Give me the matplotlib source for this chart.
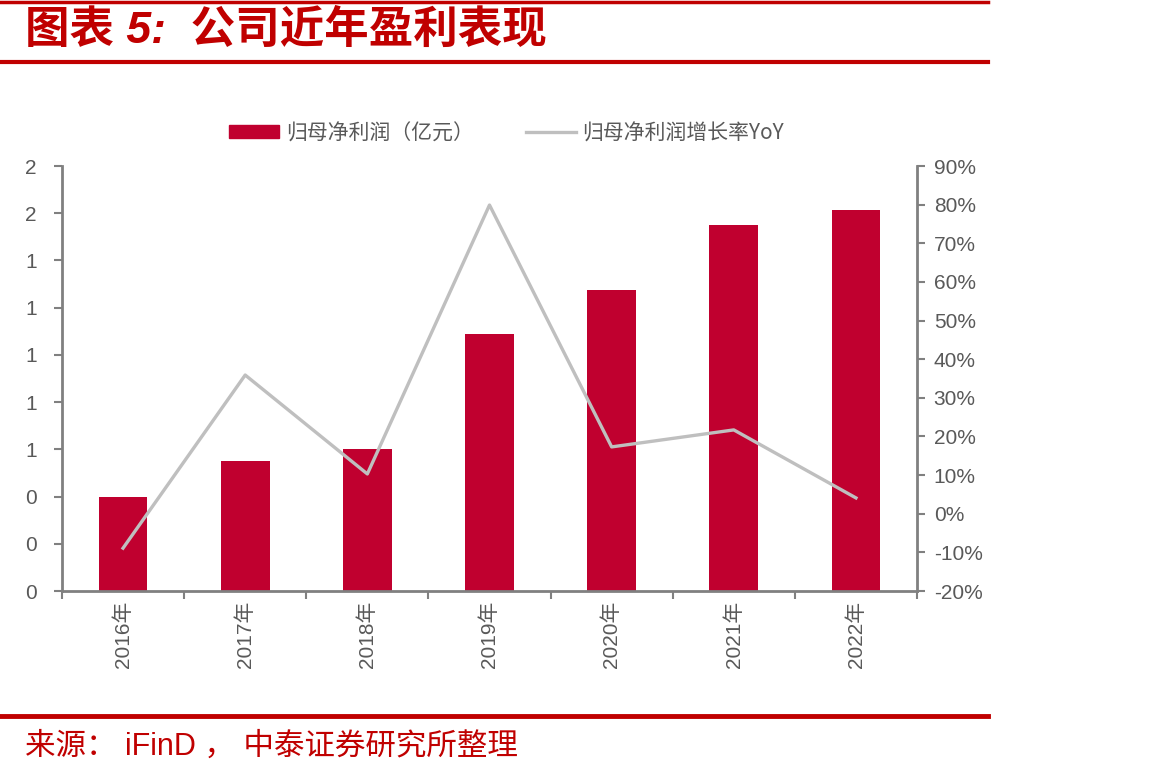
import numpy as np
import matplotlib.pyplot as plt
from matplotlib.ticker import FuncFormatter, FixedLocator
from matplotlib.lines import Line2D
from matplotlib.patches import Patch

plt.rcParams['font.family'] = ['Liberation Sans', 'Noto Sans CJK SC', 'DejaVu Sans']

years = ['2016年', '2017年', '2018年', '2019年', '2020年', '2021年', '2022年']
profit = [0.40, 0.55, 0.60, 1.09, 1.275, 1.55, 1.615]        # 归母净利润 (亿元)
yoy = [-8.9, 35.9, 10.3, 79.9, 17.3, 21.7, 4.1]             # 增长率 %

red = '#C0002F'
grey_line = '#BFBFBF'
axis_c = '#808080'
text_c = '#595959'

fig = plt.figure(figsize=(11.67, 7.79), dpi=100)
ax = fig.add_axes([0.0531, 0.2413, 0.7327, 0.5456])
ax2 = ax.twinx()

x = np.arange(len(years))
ax.bar(x, profit, width=0.40, color=red, zorder=2)
ax2.plot(x, yoy, color=grey_line, lw=2.4, zorder=3)

ax.set_xlim(-0.5, len(years) - 0.5)
ax.set_ylim(0, 1.8)
ax.set_yticks(np.arange(0, 1.81, 0.2))
ax.yaxis.set_major_formatter(FuncFormatter(lambda v, p: f'{v:.0f}'))
ax2.set_ylim(-20, 90)
ax2.set_yticks(np.arange(-20, 91, 10))
ax2.yaxis.set_major_formatter(FuncFormatter(lambda v, p: f'{v:.0f}%'))

ax.set_xticks(x)
ax.set_xticklabels(years, rotation=90)
ax.xaxis.set_minor_locator(FixedLocator(np.arange(-0.5, len(years), 1.0)))
ax.tick_params(axis='x', which='major', length=0, pad=7, labelsize=15, labelcolor=text_c)
ax.tick_params(axis='x', which='minor', length=6, width=1.5, color=axis_c)
ax.tick_params(axis='y', length=6, width=1.5, color=axis_c, labelsize=15, labelcolor=text_c, pad=12)
ax2.tick_params(axis='y', length=6, width=1.5, color=axis_c, labelsize=15, labelcolor=text_c, pad=6)

for a in (ax, ax2):
    a.spines['top'].set_visible(False)
    for s in ('left', 'right', 'bottom'):
        a.spines[s].set_color(axis_c)
        a.spines[s].set_linewidth(2)
ax.spines['right'].set_visible(False)
ax2.spines['left'].set_visible(False)
ax2.spines['bottom'].set_visible(False)

handles = [Patch(color=red), Line2D([], [], color=grey_line, lw=2.4)]
labels = ['归母净利润（亿元）', '归母净利润增长率YoY']
fig.legend(handles, labels, loc='center', bbox_to_anchor=(0.434, 0.829), ncol=2,
           frameon=False, labelcolor=text_c, handlelength=2.4,
           handleheight=0.6, columnspacing=2.5, handletextpad=0.3,
           prop={'family': ['Noto Sans CJK SC', 'DejaVu Sans'], 'size': 15})

# title and frame lines
title_red = '#C00000'
fig.add_artist(Line2D([0, 0.847], [0.998, 0.998], color=title_red, lw=2.5))
fig.add_artist(Line2D([0, 0.847], [0.920, 0.920], color=title_red, lw=3))
fig.add_artist(Line2D([0, 0.847], [0.081, 0.081], color=title_red, lw=3.5))
fig.text(0.021, 0.960, '图表 5:  公司近年盈利表现', color=title_red, fontsize=32,
         fontweight='bold', style='italic', va='center',
         family=['Liberation Sans', 'Noto Sans CJK SC'])
fig.text(0.021, 0.041, '来源： iFinD ， 中泰证券研究所整理', color=title_red, fontsize=22,
         va='center', family=['Liberation Sans', 'Noto Sans CJK SC'])

fig.savefig('out.png', dpi=100)
